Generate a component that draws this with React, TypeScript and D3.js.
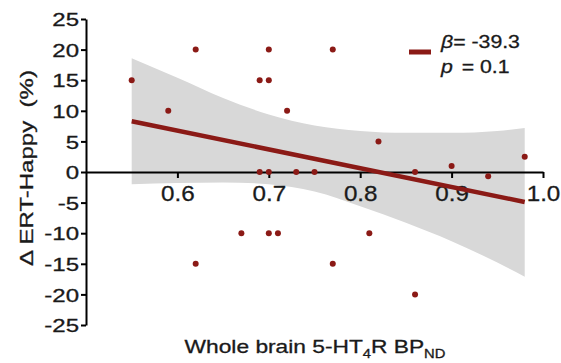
import { useEffect, useRef } from 'react';
import * as d3 from 'd3';

// scatter points
const bpX = [0.55, 0.59, 0.62, 0.62, 0.67, 0.69, 0.69, 0.70, 0.70, 0.70, 0.70, 0.71, 0.72, 0.73, 0.75, 0.77, 0.77, 0.81, 0.82, 0.86, 0.86, 0.90, 0.94, 0.98];
const ertY = [15, 10, 20, -15, -10, 15, 0, 20, 15, 0, -10, -10, 10, 0, 0, 20, -15, -10, 5, 0, -20, 1, -0.7, 2.5];

// regression line end points
const fitX = [0.55, 0.98];
const fitY = [8.3, -4.9];

// confidence band
const ciX = [0.55, 0.60, 0.65, 0.70, 0.75, 0.80, 0.85, 0.90, 0.95, 0.98];
const ciUpper = [18.6, 15.4, 12.1, 9.4, 7.6, 6.7, 6.4, 6.4, 6.7, 7.2];
const ciLower = [-2.0, -1.8, -1.7, -2.0, -3.2, -5.6, -8.3, -11.3, -14.8, -17.1];

const xTicks = [0.6, 0.7, 0.8, 0.9, 1.0];
const yTicks = [-25, -20, -15, -10, -5, 0, 5, 10, 15, 20, 25];

const RED = '#8b1a16';
const INK = '#1a1a1a';
const FONT = '"Liberation Sans", Arial, sans-serif';

const App = () => {
  const svgRef = useRef<SVGSVGElement>(null);

  useEffect(() => {
    const W = 561, H = 363;
    const svg = d3.select(svgRef.current)
      .attr('width', W)
      .attr('height', H)
      .style('font-family', FONT);

    svg.selectAll('*').remove();

    const x = d3.scaleLinear().domain([0.5, 1.0]).range([86, 543]);
    const y = d3.scaleLinear().domain([-25, 25]).range([325, 19]);

    // grey band
    const band = ciX.map((v, i) => ({ x: v, lo: ciLower[i], hi: ciUpper[i] }));
    const area = d3.area<any>()
      .x(d => x(d.x))
      .y0(d => y(d.lo))
      .y1(d => y(d.hi))
      .curve(d3.curveMonotoneX);
    svg.append('path')
      .attr('d', area(band))
      .attr('fill', '#d8d8d8');

    // y axis
    const yAxis = svg.append('g')
      .attr('transform', `translate(${x(0.5)},0)`)
      .call(d3.axisLeft(y).tickValues(yTicks).tickSize(5).tickSizeOuter(0).tickFormat(d => String(d)));
    yAxis.select('.domain').attr('stroke-width', 2);
    yAxis.selectAll('.tick line').attr('stroke-width', 2);
    yAxis.selectAll('.tick text')
      .attr('font-size', 18.5)
      .attr('fill', INK)
      .attr('stroke', INK)
      .attr('stroke-width', 0.3)
      .attr('x', -7 / 1.3)
      .attr('dy', '0.36em')
      .attr('transform', 'scale(1.3,1)');

    // x axis on y = 0
    const xAxis = svg.append('g')
      .attr('transform', `translate(0,${y(0)})`)
      .call(d3.axisBottom(x).tickValues(xTicks).tickSize(6).tickSizeOuter(0).tickFormat(d3.format('.1f')));
    xAxis.select('.domain').attr('stroke-width', 2);
    xAxis.selectAll('.tick line').attr('stroke-width', 2);
    xAxis.selectAll('.tick text')
      .attr('font-size', 22)
      .attr('fill', INK)
      .attr('stroke', INK)
      .attr('stroke-width', 0.3)
      .attr('y', 13.5)
      .attr('x', 0)
      .attr('transform', 'scale(1.1,1)');

    // fit line
    const line = d3.line<number>()
      .x((_, i) => x(fitX[i]))
      .y(d => y(d));
    svg.append('path')
      .attr('d', line(fitY))
      .attr('fill', 'none')
      .attr('stroke', RED)
      .attr('stroke-width', 4.5);

    // points
    svg.append('g')
      .selectAll('circle')
      .data(bpX)
      .enter()
      .append('circle')
      .attr('cx', d => x(d))
      .attr('cy', (_, i) => y(ertY[i]))
      .attr('r', 3)
      .attr('fill', RED);

    // legend
    svg.append('line')
      .attr('x1', 409).attr('x2', 431)
      .attr('y1', 52).attr('y2', 52)
      .attr('stroke', RED)
      .attr('stroke-width', 5);
    const leg = svg.append('g')
      .attr('transform', 'translate(441,0) scale(1.15,1)')
      .attr('font-size', 18.5)
      .attr('fill', INK)
      .attr('stroke', INK)
      .attr('stroke-width', 0.3);
    const l1 = leg.append('text').attr('x', 0).attr('y', 48);
    l1.append('tspan').attr('font-style', 'italic').text('β');
    l1.append('tspan').text('= -39.3');
    const l2 = leg.append('text').attr('x', 0).attr('y', 73);
    l2.append('tspan').attr('font-style', 'italic').text('p');
    l2.append('tspan').attr('x', 18).text('= 0.1');

    // axis titles
    svg.append('text')
      .attr('transform', 'translate(33,168) rotate(-90) scale(1.3,1)')
      .attr('text-anchor', 'middle')
      .attr('font-size', 18.5)
      .attr('fill', INK)
      .attr('stroke', INK)
      .attr('stroke-width', 0.3)
      .style('white-space', 'pre')
      .text('Δ ERT-Happy  (%)');

    const xt = svg.append('text')
      .attr('transform', 'translate(315,353) scale(1.23,1)')
      .attr('text-anchor', 'middle')
      .attr('font-size', 18.5)
      .attr('fill', INK)
      .attr('stroke', INK)
      .attr('stroke-width', 0.3);
    xt.append('tspan').text('Whole brain 5-HT');
    xt.append('tspan').attr('font-size', 12).attr('dy', 5).text('4');
    xt.append('tspan').attr('dy', -5).text('R BP');
    xt.append('tspan').attr('font-size', 12).attr('dy', 5).text('ND');
  }, []);

  return (
    <div>
      <svg ref={svgRef} style={{ position: 'absolute', left: 0, top: 0 }}></svg>
    </div>
  );
};

export default App;
